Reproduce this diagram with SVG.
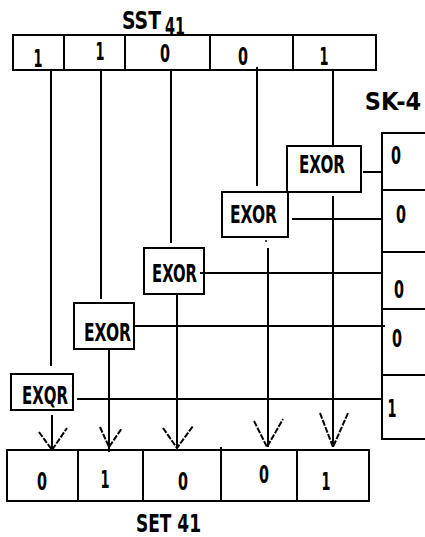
<svg xmlns="http://www.w3.org/2000/svg" width="425" height="537" viewBox="0 0 425 537">
<style>
.bx{fill:none;stroke:#000;stroke-width:2}
.ln{fill:none;stroke:#000;stroke-width:2}
.ar{fill:none;stroke:#000;stroke-width:2;stroke-dasharray:6 1.5}
.t{font-family:"DejaVu Sans Condensed","Liberation Sans Narrow","Liberation Sans",sans-serif;font-weight:bold;fill:#000;font-size:24px;text-anchor:middle}
.g{font-family:"DejaVu Sans Condensed","Liberation Sans Narrow","Liberation Sans",sans-serif;font-weight:bold;fill:#000;font-size:25px}
</style>
<rect width="425" height="537" fill="#fff"/>
<g id="sst41">
<rect class="bx" x="13" y="35" width="363" height="35"/>
<path class="ln" d="M64 35V70M125 35V70M210 35V70M293 35V70"/>
<text class="t" x="38" y="67" textLength="9" lengthAdjust="spacingAndGlyphs">1</text>
<text class="t" x="100" y="60" textLength="9" lengthAdjust="spacingAndGlyphs">1</text>
<text class="t" x="165" y="62" textLength="10" lengthAdjust="spacingAndGlyphs">0</text>
<text class="t" x="243" y="65" textLength="10" lengthAdjust="spacingAndGlyphs">0</text>
<text class="t" x="324" y="65" textLength="9" lengthAdjust="spacingAndGlyphs">1</text>
<text class="g" x="122" y="29" textLength="39" lengthAdjust="spacingAndGlyphs">SST</text>
<text class="g" x="165" y="35" textLength="20" lengthAdjust="spacingAndGlyphs">41</text>
</g>
<g id="sk4">
<path class="ln" d="M425 133H382V439H425M382 190H425M382 252H425M382 309H425M382 375H425"/>
<text class="t" x="396" y="164" textLength="10" lengthAdjust="spacingAndGlyphs">0</text>
<text class="t" x="401" y="223" textLength="10" lengthAdjust="spacingAndGlyphs">0</text>
<text class="t" x="399" y="298" textLength="10" lengthAdjust="spacingAndGlyphs">0</text>
<text class="t" x="397" y="347" textLength="10" lengthAdjust="spacingAndGlyphs">0</text>
<text class="t" x="392" y="417" textLength="9" lengthAdjust="spacingAndGlyphs">1</text>
<text class="g" x="393" y="110" font-size="19" text-anchor="middle">SK-4</text>
</g>
<g id="exor1">
<rect class="bx" x="287" y="146" width="74" height="46"/>
<text class="g" x="299" y="173" textLength="46" lengthAdjust="spacingAndGlyphs">EXOR</text>
</g>
<g id="exor2">
<rect class="bx" x="222" y="192" width="66" height="45"/>
<text class="g" x="230" y="223" textLength="47" lengthAdjust="spacingAndGlyphs">EXOR</text>
</g>
<g id="exor3">
<rect class="bx" x="144" y="248" width="60" height="46"/>
<text class="g" x="152" y="282" textLength="45" lengthAdjust="spacingAndGlyphs">EXOR</text>
</g>
<g id="exor4">
<rect class="bx" x="74" y="303" width="60" height="46"/>
<text class="g" x="84" y="341" textLength="47" lengthAdjust="spacingAndGlyphs">EXOR</text>
</g>
<g id="exqr5">
<rect class="bx" x="11" y="374" width="62" height="36"/>
<text class="g" x="22" y="404" font-size="24" textLength="46" lengthAdjust="spacingAndGlyphs">EXQR</text>
</g>
<g id="set41">
<rect class="bx" x="7" y="450" width="362" height="51"/>
<path class="ln" d="M78 450V501M143 450V501M221 447V501M297 450V501"/>
<text class="t" x="42" y="490" textLength="10" lengthAdjust="spacingAndGlyphs">0</text>
<text class="t" x="105" y="488" textLength="9" lengthAdjust="spacingAndGlyphs">1</text>
<text class="t" x="183" y="490" textLength="10" lengthAdjust="spacingAndGlyphs">0</text>
<text class="t" x="264" y="483" textLength="10" lengthAdjust="spacingAndGlyphs">0</text>
<text class="t" x="326" y="490" textLength="9" lengthAdjust="spacingAndGlyphs">1</text>
<text class="g" x="136" y="532" textLength="65" lengthAdjust="spacingAndGlyphs">SET 41</text>
</g>
<g id="connectors">
<path class="ln" d="M51 70V366M101 70V299M171 70V243M257 67V186M333 70V146"/>
<path class="ln" d="M52 415V450M109 349V452M177 294V448M268 248V447M333 196V447"/>
<path class="ln" d="M363 172H381M292 219H381M200 273H381M133 326H385M77 399H381"/>
<circle cx="266" cy="241" r="1" fill="#000"/>
<path class="ar" d="M39 432L52 450L67 428"/>
<path class="ar" d="M100 427L109 447L122 428"/>
<path class="ar" d="M163 428L177 448L193 426"/>
<path class="ar" d="M254 421L267 447L283 419"/>
<path class="ar" d="M320 413L333 447L348 413"/>
</g>
</svg>
